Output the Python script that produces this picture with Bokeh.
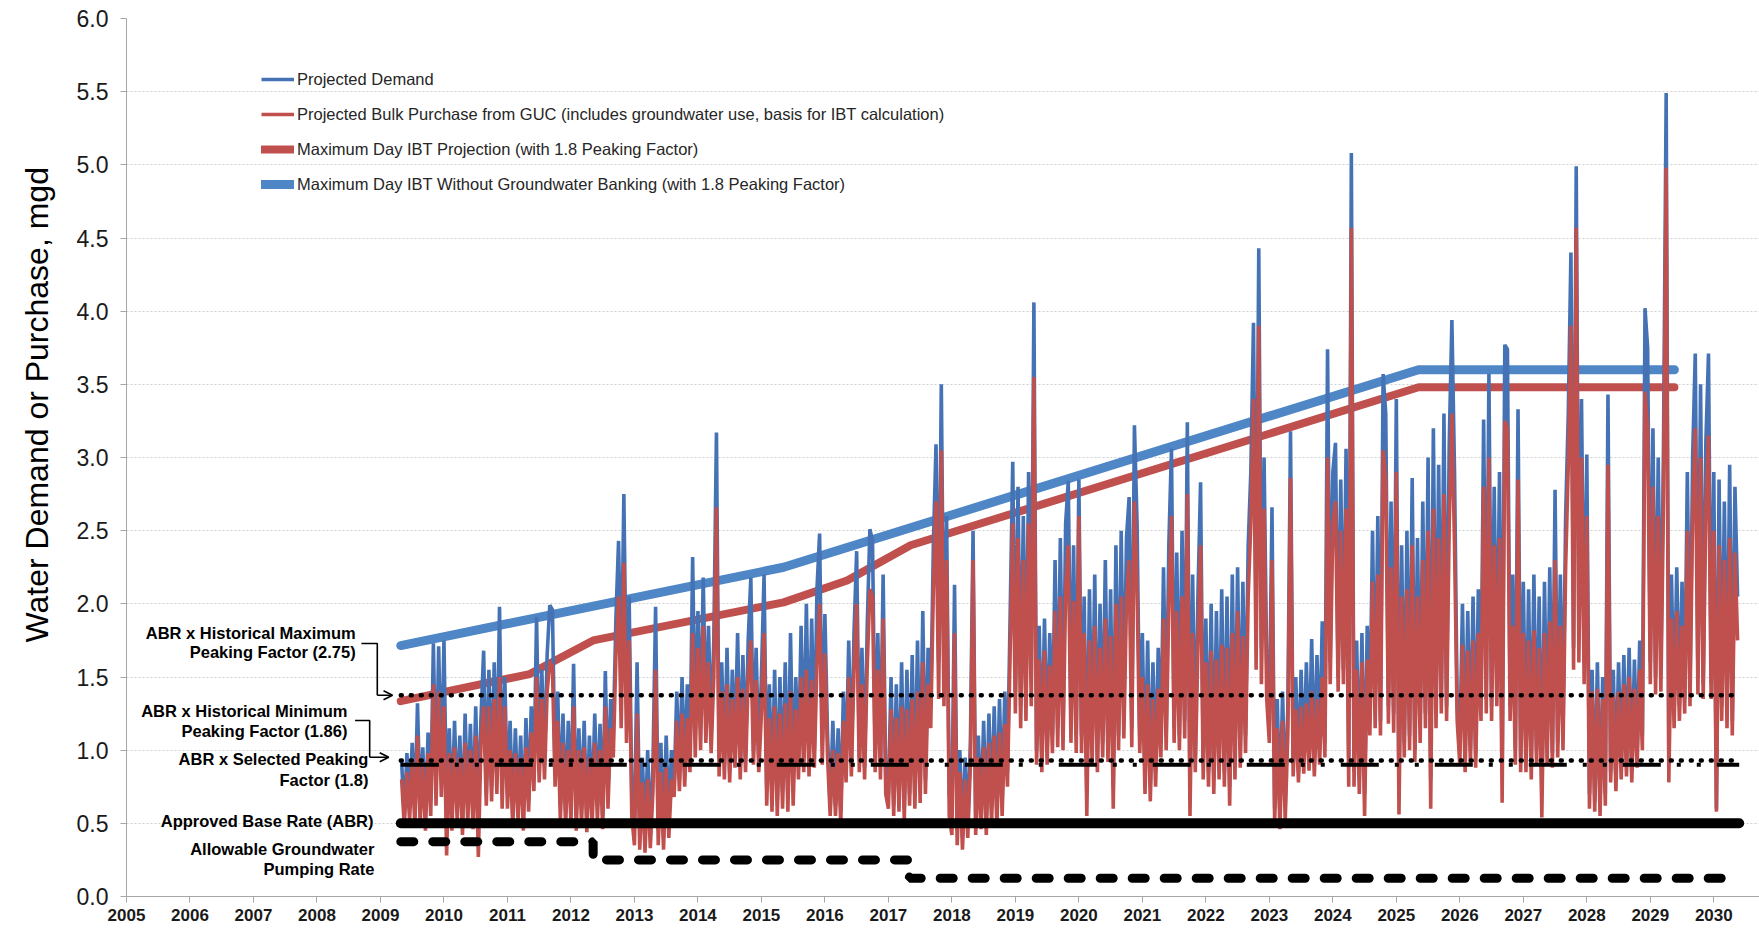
import numpy as np
from bokeh.plotting import figure
from bokeh.models import (Range1d, FixedTicker, NumeralTickFormatter, Legend,
                          LegendItem, Label, Arrow, OpenHead, ColumnDataSource,
                          Title)
from bokeh.embed import file_html
from bokeh.resources import INLINE

FONT = "Liberation Sans"

# ---------------------------------------------------------------------------
# Projected daily demand / bulk purchase, sampled every half month
# (first sample 1 May 2009, one row per calendar year)
# ---------------------------------------------------------------------------
series_start = 2009 + 8 / 24
samples_per_year = 24

demand_mgd = [
    0.92, 0.55, 0.98, 0.62, 1.05, 0.58, 1.32, 0.60, 1.02, 0.55, 1.12, 0.65, 1.73, 0.72, 1.71, 0.80,
    1.75, 0.60, 1.15, 0.55, 1.20, 0.62, 1.10, 0.50, 1.25, 0.60, 1.18, 0.55, 1.30, 0.58, 1.22, 1.68, 0.70, 1.55, 0.75, 1.60, 0.80, 1.98, 0.72, 1.50,
    0.70, 1.20, 0.55, 1.15, 0.60, 1.10, 0.52, 1.22, 0.65, 1.30, 0.80, 1.91, 0.85, 1.55, 0.90, 1.65, 1.99, 1.96, 0.85, 1.40, 0.62, 1.25, 0.58, 1.20,
    0.60, 1.59, 0.55, 1.15, 0.60, 1.20, 0.52, 1.10, 0.58, 1.25, 0.62, 1.18, 0.55, 1.54, 0.70, 1.35, 1.10, 1.90, 2.43, 1.40, 2.75, 1.30, 2.05, 0.70,
    0.50, 1.60, 0.45, 0.95, 0.40, 1.00, 0.42, 0.90, 1.98, 0.45, 1.05, 0.40, 1.10, 0.50, 1.00, 0.75, 1.40, 0.80, 1.50, 0.85, 1.45, 0.95, 2.32, 1.10,
    1.95, 1.15, 2.18, 1.20, 1.85, 1.10, 1.75, 3.17, 0.95, 1.60, 0.90, 1.70, 0.85, 1.55, 1.00, 1.80, 0.90, 1.65, 0.95, 1.75, 2.18, 1.00, 1.70, 0.95,
    1.50, 2.20, 0.75, 1.45, 0.70, 1.55, 0.65, 1.50, 0.72, 1.60, 0.68, 1.80, 0.75, 1.50, 0.90, 1.85, 0.95, 2.00, 0.92, 1.90, 1.00, 2.10, 2.48, 1.05,
    1.93, 1.10, 0.60, 1.20, 0.62, 1.15, 0.58, 1.40, 0.85, 1.75, 0.90, 1.80, 2.36, 0.95, 1.70, 0.88, 1.85, 2.51, 2.43, 0.95, 1.80, 0.90, 2.20, 0.80,
    0.70, 1.50, 0.62, 1.45, 0.65, 1.60, 0.60, 1.55, 0.70, 1.65, 0.68, 1.75, 0.72, 1.95, 0.80, 1.70, 1.30, 2.40, 3.09, 1.60, 3.50, 1.50, 2.60, 0.70,
    0.55, 2.13, 0.45, 1.00, 0.40, 0.95, 0.48, 1.05, 2.50, 0.50, 1.10, 0.55, 1.20, 0.50, 1.25, 0.60, 1.30, 0.58, 1.35, 0.65, 1.40, 0.85, 1.90, 2.97,
    1.40, 2.80, 1.30, 2.60, 1.35, 2.90, 1.50, 4.06, 1.00, 1.85, 0.95, 1.90, 1.00, 1.80, 1.10, 2.30, 1.15, 2.45, 1.10, 2.55, 2.84, 1.20, 2.40, 1.10,
    2.85, 1.10, 2.05, 0.70, 2.10, 1.00, 2.20, 0.92, 2.00, 1.05, 2.30, 1.00, 2.10, 0.75, 2.40, 1.10, 2.50, 1.20, 2.45, 2.73, 1.15, 3.22, 2.55, 1.10,
    1.80, 0.80, 1.75, 0.75, 1.60, 0.85, 1.70, 1.05, 2.25, 1.10, 2.40, 3.06, 1.15, 2.35, 1.10, 2.50, 1.20, 3.24, 0.70, 2.20, 0.95, 2.05, 2.83, 0.90,
    1.90, 0.85, 2.00, 0.80, 1.95, 0.90, 2.10, 0.85, 2.05, 0.75, 2.20, 0.90, 2.25, 1.00, 2.15, 1.10, 2.40, 2.90, 3.92, 1.80, 4.43, 1.70, 3.00, 1.60,
    1.20, 2.66, 0.60, 1.35, 0.55, 1.40, 0.62, 1.30, 3.18, 0.90, 1.50, 0.85, 1.55, 0.92, 1.60, 0.95, 1.76, 0.90, 1.65, 1.00, 1.88, 1.05, 3.74, 1.60,
    2.90, 3.10, 1.50, 2.85, 1.55, 3.06, 0.95, 5.08, 0.85, 1.75, 0.80, 1.80, 0.70, 1.85, 1.20, 2.50, 1.25, 2.60, 1.20, 3.57, 3.30, 1.30, 2.70, 1.25,
    3.40, 0.70, 2.40, 1.05, 2.50, 1.10, 2.86, 1.00, 2.45, 1.15, 2.70, 1.25, 3.00, 0.80, 3.20, 1.25, 2.95, 1.35, 3.30, 1.30, 3.10, 3.94, 2.90, 1.30,
    1.00, 2.00, 0.95, 1.95, 1.00, 2.05, 0.98, 2.10, 1.30, 3.26, 1.35, 3.57, 1.30, 2.80, 1.40, 2.90, 0.85, 3.77, 3.74, 1.30, 2.20, 1.00, 3.33, 0.95,
    2.15, 0.95, 2.10, 0.90, 2.20, 1.00, 2.05, 0.70, 2.15, 1.00, 2.25, 0.98, 2.78, 1.05, 2.20, 1.10, 2.60, 3.30, 4.40, 1.70, 4.99, 1.80, 3.40, 1.60,
    3.02, 0.70, 1.55, 0.65, 1.60, 0.62, 1.50, 0.70, 3.43, 0.85, 1.55, 0.80, 1.60, 0.88, 1.65, 0.90, 1.70, 0.85, 1.62, 0.95, 1.75, 1.10, 4.02, 3.75,
    1.60, 3.20, 1.50, 3.00, 1.55, 3.10, 5.49, 0.95, 2.20, 1.25, 2.25, 1.30, 2.15, 1.35, 2.90, 1.40, 3.00, 3.71, 1.50, 3.50, 1.45, 3.10, 3.71, 1.45,
    2.90, 0.60, 2.85, 1.30, 2.70, 1.25, 2.95, 1.20, 2.80, 2.05,
]

purchase_mgd = [
    0.80, 0.48, 0.85, 0.52, 0.92, 0.48, 1.10, 0.50, 0.90, 0.45, 0.98, 0.55, 1.45, 0.62, 1.40, 0.68,
    1.30, 0.28, 0.98, 0.45, 1.02, 0.52, 0.95, 0.42, 1.05, 0.50, 1.00, 0.46, 1.10, 0.27, 1.05, 1.30, 0.62, 1.30, 0.65, 1.35, 0.70, 1.50, 0.60, 1.30,
    0.60, 1.00, 0.48, 0.98, 0.52, 0.95, 0.45, 1.02, 0.58, 1.12, 0.72, 1.50, 0.78, 1.35, 0.80, 1.40, 1.60, 1.58, 0.75, 1.20, 0.52, 1.05, 0.48, 1.00,
    0.50, 1.30, 0.45, 1.00, 0.50, 1.02, 0.44, 0.95, 0.48, 1.05, 0.52, 1.00, 0.46, 1.30, 0.60, 1.15, 0.95, 1.65, 2.05, 1.15, 2.28, 1.05, 1.75, 0.55,
    0.35, 1.25, 0.32, 0.78, 0.30, 0.80, 0.33, 0.72, 1.55, 0.35, 0.85, 0.32, 0.88, 0.40, 0.80, 0.68, 1.20, 0.72, 1.25, 0.75, 1.22, 0.85, 1.80, 0.95,
    1.70, 1.00, 1.85, 1.05, 1.60, 0.98, 1.50, 2.66, 0.82, 1.40, 0.80, 1.45, 0.78, 1.35, 0.88, 1.50, 0.80, 1.42, 0.85, 1.50, 1.75, 0.90, 1.48, 0.85,
    1.25, 1.80, 0.62, 1.22, 0.58, 1.30, 0.55, 1.25, 0.60, 1.32, 0.58, 1.40, 0.62, 1.28, 0.80, 1.50, 0.85, 1.55, 0.82, 1.48, 0.88, 1.60, 2.00, 0.90,
    1.66, 0.95, 0.55, 1.00, 0.55, 0.98, 0.50, 1.20, 0.78, 1.50, 0.82, 1.55, 2.00, 0.85, 1.45, 0.80, 1.58, 2.10, 2.05, 0.85, 1.55, 0.80, 1.90, 0.70,
    0.60, 1.28, 0.55, 1.22, 0.58, 1.30, 0.52, 1.28, 0.62, 1.35, 0.60, 1.40, 0.64, 1.60, 0.70, 1.45, 1.15, 2.10, 2.70, 1.35, 3.05, 1.30, 2.30, 0.55,
    0.42, 1.80, 0.35, 0.85, 0.32, 0.80, 0.40, 0.90, 2.30, 0.42, 0.95, 0.46, 1.02, 0.42, 1.05, 0.50, 1.10, 0.48, 1.12, 0.55, 1.18, 0.75, 1.65, 2.55,
    1.25, 2.45, 1.15, 2.30, 1.20, 2.55, 1.30, 3.55, 0.90, 1.62, 0.85, 1.68, 0.90, 1.58, 0.98, 1.95, 1.02, 2.05, 1.00, 2.10, 2.40, 1.05, 2.02, 0.98,
    2.60, 0.98, 1.80, 0.55, 1.75, 0.90, 1.85, 0.85, 1.70, 0.95, 1.90, 0.92, 1.78, 0.60, 2.00, 1.00, 2.05, 1.08, 2.02, 2.30, 1.02, 2.70, 2.10, 0.98,
    1.50, 0.70, 1.45, 0.65, 1.35, 0.75, 1.42, 0.95, 1.90, 1.00, 2.00, 2.60, 1.05, 1.95, 1.00, 2.05, 1.08, 2.75, 0.55, 1.80, 0.85, 1.70, 2.40, 0.80,
    1.60, 0.75, 1.68, 0.70, 1.62, 0.80, 1.72, 0.75, 1.70, 0.62, 1.80, 0.80, 1.95, 0.88, 1.78, 0.98, 2.05, 2.55, 3.40, 1.55, 3.90, 1.45, 2.65, 1.35,
    1.05, 2.30, 0.50, 1.15, 0.46, 1.20, 0.52, 1.12, 2.86, 0.82, 1.28, 0.78, 1.30, 0.84, 1.32, 0.86, 1.40, 0.82, 1.35, 0.90, 1.50, 0.95, 3.00, 1.45,
    2.55, 2.70, 1.40, 2.50, 1.45, 2.65, 0.75, 4.57, 0.75, 1.55, 0.70, 1.60, 0.55, 1.62, 1.10, 2.15, 1.15, 2.20, 1.10, 3.05, 2.85, 1.18, 2.25, 1.12,
    2.90, 0.56, 2.05, 0.95, 2.10, 1.00, 2.40, 0.92, 2.05, 1.05, 2.30, 1.15, 2.50, 0.60, 2.65, 1.15, 2.45, 1.25, 2.75, 1.20, 2.55, 3.30, 2.40, 1.20,
    0.90, 1.72, 0.85, 1.68, 0.90, 1.75, 0.88, 1.80, 1.20, 2.80, 1.25, 3.00, 1.20, 2.40, 1.30, 2.45, 0.64, 3.25, 3.20, 1.20, 1.85, 0.90, 2.85, 0.85,
    1.80, 0.85, 1.75, 0.80, 1.82, 0.90, 1.70, 0.54, 1.80, 0.90, 1.88, 0.88, 2.30, 0.95, 1.85, 1.00, 2.25, 2.95, 3.90, 1.55, 4.57, 1.60, 3.00, 1.45,
    2.60, 0.60, 1.40, 0.58, 1.42, 0.55, 1.35, 0.62, 2.95, 0.78, 1.38, 0.72, 1.40, 0.80, 1.45, 0.82, 1.50, 0.78, 1.42, 0.88, 1.55, 1.00, 3.45, 3.20,
    1.45, 2.80, 1.38, 2.60, 1.40, 2.70, 4.98, 0.78, 1.90, 1.15, 1.95, 1.20, 1.85, 1.25, 2.50, 1.30, 2.60, 3.20, 1.38, 3.00, 1.35, 2.65, 3.15, 1.35,
    2.50, 0.58, 2.40, 1.20, 2.30, 1.15, 2.45, 1.10, 2.35, 1.75,
]

# Maximum-day IBT lines (with 1.8 peaking factor)
ibt_no_bank_year = [2009.32, 2015.35, 2025.35, 2029.38]
ibt_no_bank_mgd = [1.715, 2.25, 3.60, 3.60]
ibt_proj_year = [2009.32, 2011.35, 2012.35, 2015.35, 2016.35, 2017.35, 2025.35, 2029.38]
ibt_proj_mgd = [1.335, 1.52, 1.75, 2.01, 2.16, 2.40, 3.48, 3.48]

# Approved base rate and peaking factors
abr_mgd = 0.5
hist_max_pf = 2.75
hist_min_pf = 1.86
selected_pf = 1.8
ref_start, ref_end = 2009.32, 2030.40

# Allowable groundwater pumping rate (step changes)
gw_change_years = [2009.32, 2012.35, 2017.33, 2030.40]
gw_rates_mgd = [0.375, 0.25, 0.125]

year_ticks = list(range(2005, 2031))
mgd_ticks = [0.0, 0.5, 1.0, 1.5, 2.0, 2.5, 3.0, 3.5, 4.0, 4.5, 5.0, 5.5, 6.0]

if len(demand_mgd) != len(purchase_mgd):
    raise ValueError("series lengths differ: %d vs %d" % (len(demand_mgd), len(purchase_mgd)))

# ---------------------------------------------------------------------------
p = figure(width=1759, height=934, output_backend="svg", toolbar_location=None,
           x_range=Range1d(2005, 2030.72), y_range=Range1d(0, 6),
           min_border_left=126, min_border_right=0, min_border_top=18,
           min_border_bottom=38)
p.outline_line_color = None
p.background_fill_color = "white"
p.border_fill_color = "white"

xa = p.xaxis[0]
xa.ticker = FixedTicker(ticks=year_ticks)
xa.formatter = NumeralTickFormatter(format="0")
xa.major_label_text_font = FONT
xa.major_label_text_font_size = "17px"
xa.major_label_text_font_style = "bold"
xa.major_label_text_color = "#1a1a1a"
xa.major_label_standoff = 6
xa.axis_line_color = "#a6a6a6"
xa.major_tick_line_color = "#a6a6a6"
xa.major_tick_out = 6
xa.major_tick_in = 0
xa.minor_tick_line_color = None

ya = p.yaxis[0]
ya.ticker = FixedTicker(ticks=mgd_ticks)
ya.formatter = NumeralTickFormatter(format="0.0")
ya.major_label_text_font = FONT
ya.major_label_text_font_size = "23px"
ya.major_label_text_color = "#1a1a1a"
ya.major_label_standoff = 12
ya.axis_line_color = "#a6a6a6"
ya.major_tick_line_color = "#a6a6a6"
ya.major_tick_out = 6
ya.major_tick_in = 0
ya.minor_tick_line_color = None

p.xgrid.visible = False
p.ygrid.grid_line_color = "#cfcfcf"
p.ygrid.grid_line_dash = "2 2"

# vertical axis title in the left margin, starting a little above mid-height
p.add_layout(Title(text="Water Demand or Purchase,  mgd", align="left",
                   offset=254, vertical_align="top", standoff=34,
                   text_font=FONT, text_font_size="32px",
                   text_font_style="normal", text_color="black"), "left")

# maximum-day IBT lines
r_ibt_blue = p.line(ibt_no_bank_year, ibt_no_bank_mgd, line_color="#4f86c6",
                    line_width=9, line_cap="round", line_join="round")
r_ibt_red = p.line(ibt_proj_year, ibt_proj_mgd, line_color="#c0504d",
                   line_width=8, line_cap="round", line_join="round")

# projected daily series
years = series_start + np.arange(len(demand_mgd)) / samples_per_year
src = ColumnDataSource(dict(year=years, demand=demand_mgd, purchase=purchase_mgd))
r_dem = p.line("year", "demand", source=src, line_color="#4472b4", line_width=3.6)
r_pur = p.line("year", "purchase", source=src, line_color="#c0504d", line_width=3.6)

# reference rates
p.line([ref_start, ref_end], [abr_mgd * hist_max_pf] * 2, line_color="black",
       line_width=4.5, line_dash="1 9", line_cap="round")
p.line([ref_start, ref_end], [abr_mgd * hist_min_pf] * 2, line_color="black",
       line_width=4.5, line_dash="1 9", line_cap="round")
p.line([ref_start, ref_end], [abr_mgd * selected_pf] * 2, line_color="black",
       line_width=4, line_dash="38 16 4 16 4 16")
p.line([ref_start, ref_end], [abr_mgd] * 2, line_color="black",
       line_width=10, line_cap="round")

gw_x, gw_y = [], []
for i, rate in enumerate(gw_rates_mgd):
    gw_x += [gw_change_years[i], gw_change_years[i + 1]]
    gw_y += [rate, rate]
p.line(gw_x, gw_y, line_color="black", line_width=9, line_dash="13 19",
       line_cap="round")

# annotations on the left
def note(text, x, y):
    p.add_layout(Label(x=x, y=y, text=text, text_align="right",
                       text_baseline="middle", text_font=FONT,
                       text_font_size="16.5px", text_font_style="bold",
                       text_color="black"))

note("ABR x Historical Maximum", 2008.61, 1.804)
note("Peaking Factor (2.75)", 2008.61, 1.668)
note("ABR x Historical Minimum", 2008.48, 1.271)
note("Peaking Factor (1.86)", 2008.48, 1.128)
note("ABR x Selected Peaking", 2008.81, 0.943)
note("Factor (1.8)", 2008.81, 0.793)
note("Approved Base Rate (ABR)", 2008.89, 0.519)
note("Allowable Groundwater", 2008.905, 0.328)
note("Pumping Rate", 2008.905, 0.191)

# bracket connectors with arrows
p.line([2008.70, 2008.95, 2008.95], [1.729, 1.729, abr_mgd * hist_max_pf],
       line_color="black", line_width=1.6)
p.add_layout(Arrow(end=OpenHead(size=9, line_width=1.6, line_color="black"),
                   x_start=2008.95, y_start=abr_mgd * hist_max_pf,
                   x_end=2009.19, y_end=abr_mgd * hist_max_pf,
                   line_color="black", line_width=1.6))
p.line([2008.60, 2008.83, 2008.83], [1.203, 1.203, 0.952],
       line_color="black", line_width=1.6)
p.add_layout(Arrow(end=OpenHead(size=9, line_width=1.6, line_color="black"),
                   x_start=2008.83, y_start=0.952, x_end=2009.13, y_end=0.952,
                   line_color="black", line_width=1.6))

legend = Legend(items=[
    LegendItem(label="Projected Demand", renderers=[r_dem]),
    LegendItem(label="Projected Bulk Purchase from GUC (includes groundwater use, basis for IBT calculation)",
               renderers=[r_pur]),
    LegendItem(label="Maximum Day IBT Projection (with 1.8 Peaking Factor)",
               renderers=[r_ibt_red]),
    LegendItem(label="Maximum Day IBT Without Groundwater Banking (with 1.8 Peaking Factor)",
               renderers=[r_ibt_blue]),
], location=(135, 702), orientation="vertical", padding=0, margin=0,
    spacing=15, glyph_width=33, glyph_height=20, label_height=20,
    label_standoff=3, label_text_font=FONT, label_text_font_size="16.5px",
    label_text_color="#262626", border_line_color=None,
    background_fill_alpha=0)
p.add_layout(legend)

with open("out.html", "w") as f:
    f.write(file_html(p, INLINE))
